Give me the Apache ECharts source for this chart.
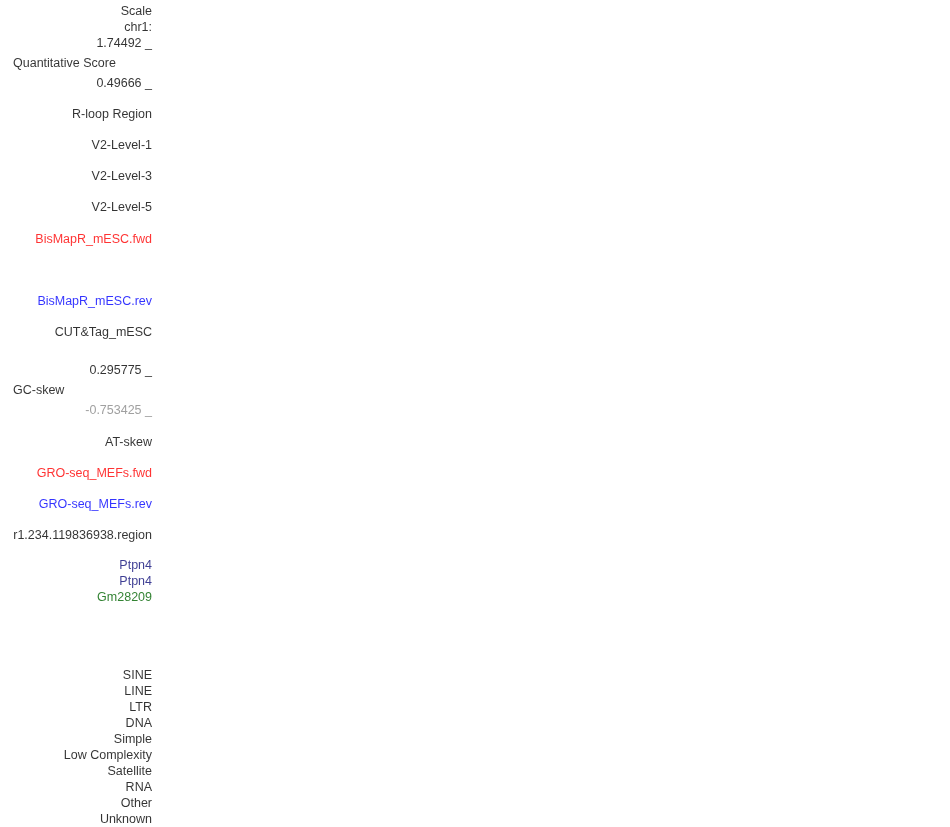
<!DOCTYPE html>
<html>
<head>
<meta charset="UTF-8">
<title>Track labels</title>
<script src="https://cdn.jsdelivr.net/npm/echarts/dist/echarts.min.js"></script>
<style>
  html, body { margin: 0; padding: 0; background: #fff; }
  #chart { width: 950px; height: 827px; }
</style>
</head>
<body>
<div id="chart"></div>
<script>
// track label texts, top to bottom
var labels = [
  'Scale', 'chr1:', '1.74492 _', 'Quantitative Score', '0.49666 _',
  'R-loop Region', 'V2-Level-1', 'V2-Level-3', 'V2-Level-5',
  'BisMapR_mESC.fwd', 'BisMapR_mESC.rev', 'CUT&Tag_mESC',
  '0.295775 _', 'GC-skew', '-0.753425 _', 'AT-skew',
  'GRO-seq_MEFs.fwd', 'GRO-seq_MEFs.rev', 'r1.234.119836938.region',
  'Ptpn4', 'Ptpn4', 'Gm28209',
  'SINE', 'LINE', 'LTR', 'DNA', 'Simple', 'Low Complexity',
  'Satellite', 'RNA', 'Other', 'Unknown'
];
// row (pixel line of the browser image) for each label
var rows = [
  10, 26, 42, 62, 82,
  113, 144, 175, 206,
  238, 300, 331,
  369, 389, 409, 441,
  472, 503, 534,
  564, 580, 596,
  674, 690, 706, 722, 738, 754,
  770, 786, 802, 818
];
// kind of each label, used to pick colour / alignment
var kinds = [
  'plain', 'plain', 'plain', 'name', 'plain',
  'plain', 'plain', 'plain', 'plain',
  'fwd', 'rev', 'plain',
  'plain', 'name', 'dim', 'plain',
  'fwd', 'rev', 'plain',
  'gene', 'gene', 'lnc',
  'plain', 'plain', 'plain', 'plain', 'plain', 'plain',
  'plain', 'plain', 'plain', 'plain'
];

var colorOf = {
  plain: '#000000', name: '#000000', dim: '#888888',
  fwd: '#ff0000', rev: '#0000ff', gene: '#0c0c78', lnc: '#006400'
};

var chart = echarts.init(document.getElementById('chart'));

var items = labels.map(function (t, i) {
  var left = kinds[i] === 'name';
  return {
    value: [left ? 13 : 152, rows[i]],
    label: {
      formatter: t,
      color: colorOf[kinds[i]],
      align: left ? 'left' : 'right'
    }
  };
});

chart.setOption({
  animation: false,
  backgroundColor: '#ffffff',
  grid: { left: 0, right: 0, top: 0, bottom: 0 },
  xAxis: { type: 'value', min: 0, max: 950, show: false },
  yAxis: { type: 'value', min: 0, max: 827, inverse: true, show: false },
  series: [{
    type: 'scatter',
    symbolSize: 0,
    silent: true,
    data: items,
    label: {
      show: true,
      position: [0, 1.5],
      verticalAlign: 'middle',
      fontFamily: 'Liberation Sans, Arial, sans-serif',
      fontSize: 12.5
    }
  }]
});
</script>
</body>
</html>
